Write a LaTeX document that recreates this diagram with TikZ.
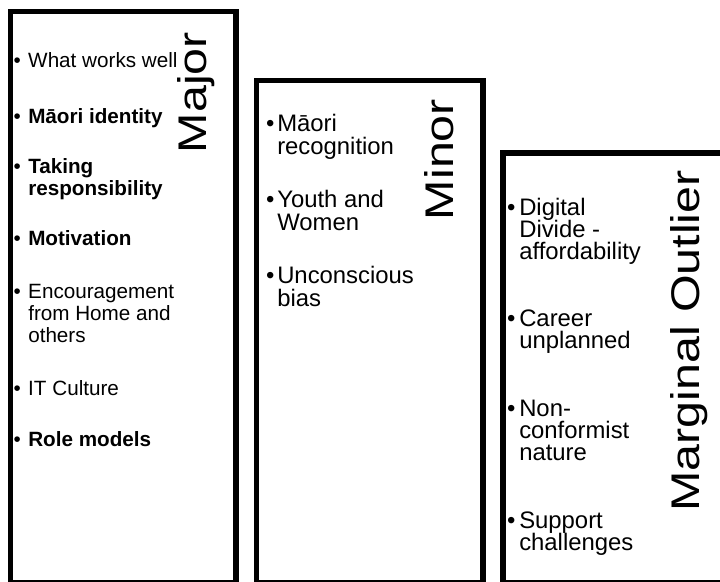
\documentclass[tikz,border=0pt]{standalone}
\usepackage{fontspec}
\setmainfont{Liberation Sans}
% bullet hung to the left of the item text, #1 = gap before the text
\newcommand\itemmark[1]{\llap{\textbullet\hspace{#1}}}
\begin{document}
\begin{tikzpicture}[x=0.75pt,y=-0.75pt,
  panel/.style={draw=black, line width=4.1pt, line join=miter},
  smalltext/.style={anchor=base west, inner sep=0pt, font=\fontsize{15.5}{18}\selectfont},
  largetext/.style={anchor=base west, inner sep=0pt, font=\fontsize{17.9}{21}\selectfont},
  heading/.style={rotate=90, anchor=base, inner sep=0pt, font=\fontsize{30}{33}\selectfont}]
\useasboundingbox (0,0) rectangle (720,581);
\clip (0,0) rectangle (720,581);

% the three columns
\draw[panel] (10.5,11.5) rectangle (236,583);
\draw[panel] (256.5,80.5) rectangle (483,583);
\draw[panel] (503,153) rectangle (745,583);

% column headings
\node[heading] (hmajor) at (206,92.5) {\scalebox{1.21}[1]{Major}};
\node[heading] (hminor) at (453,159.5) {\scalebox{1.21}[1]{Minor}};
\node[heading] (houtlier) at (699,341) {\scalebox{1.21}[1]{Marginal Outlier}};

% Major
\node[smalltext] (a1) at (28,68) {\itemmark{5.5pt}What works well};
\node[smalltext] (a2) at (28,123) {\itemmark{5.5pt}\textbf{Māori identity}};
\node[smalltext] (a3) at (28,173) {\itemmark{5.5pt}\textbf{Taking}};
\node[smalltext] (a3b) at (28,195) {\textbf{responsibility}};
\node[smalltext] (a4) at (28,245) {\itemmark{5.5pt}\textbf{Motivation}};
\node[smalltext] (a5) at (28,298) {\itemmark{5.5pt}Encouragement};
\node[smalltext] (a5b) at (28,320) {from Home and};
\node[smalltext] (a5c) at (28,342) {others};
\node[smalltext] (a6) at (28,395) {\itemmark{5.5pt}IT Culture};
\node[smalltext] (a7) at (28,446) {\itemmark{5.5pt}\textbf{Role models}};

% Minor
\node[largetext] (b1) at (277,132) {\itemmark{2.1pt}Māori};
\node[largetext] (b1b) at (277,155) {recognition};
\node[largetext] (b2) at (277,207) {\itemmark{2.1pt}Youth and};
\node[largetext] (b2b) at (277,230) {Women};
\node[largetext] (b3) at (277,283) {\itemmark{2.1pt}Unconscious};
\node[largetext] (b3b) at (277,306) {bias};

% Marginal Outlier
\node[largetext] (c1) at (519,215) {\itemmark{2.8pt}Digital};
\node[largetext] (c1b) at (519,237) {Divide -};
\node[largetext] (c1c) at (519,259) {affordability};
\node[largetext] (c2) at (519,326.7) {\itemmark{2.8pt}Career};
\node[largetext] (c2b) at (519,348.7) {unplanned};
\node[largetext] (c3) at (519,416.3) {\itemmark{2.8pt}Non-};
\node[largetext] (c3b) at (519,438.3) {conformist};
\node[largetext] (c3c) at (519,460.3) {nature};
\node[largetext] (c4) at (519,528) {\itemmark{2.8pt}Support};
\node[largetext] (c4b) at (519,550) {challenges};
\end{tikzpicture}
\end{document}
